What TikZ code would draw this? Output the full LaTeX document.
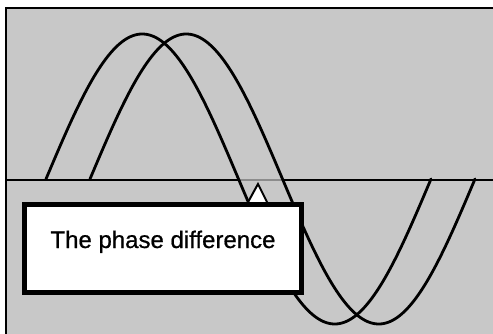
\documentclass[tikz,border=0pt]{standalone}
\usepackage{fontspec}
\newfontfamily\gothic[FakeBold=0.7]{Liberation Sans}
\definecolor{panel}{RGB}{200,200,200}
\definecolor{gapgray}{RGB}{140,140,140}
\begin{document}
\begin{tikzpicture}[x=1pt,y=-1pt,
  wave/.style={line width=2.8pt, line cap=round},
  axisline/.style={line width=2.2pt},
  callout/.style={draw=black, fill=white, line width=5.5pt, minimum width=277pt, minimum height=88pt,
    inner sep=0pt, text height=17pt, text depth=18pt, font=\gothic\fontsize{24}{24}\selectfont}]
\useasboundingbox (0,0) rectangle (493,334);
% panel
\fill[panel] (6,8) rectangle (493,334);
\draw[line width=2.2pt] (6,334) -- (6,8) -- (493,8);
% axis
\coordinate (axL) at (6,180);
\coordinate (axR) at (493,180);
\draw[axisline] (axL) -- (axR);
\coordinate (z1) at (238.5,180);
\coordinate (z2) at (282.5,180);
\draw[axisline, gapgray] (z1) -- (z2);
% waves
\draw[wave] plot[domain=46:431, samples=240, smooth] (\x, {179 - 145*sin((\x-46)/385*360)});
\draw[wave] plot[domain=90:475, samples=240, smooth] (\x, {179 - 145*sin((\x-90)/385*360)});
% pointer
\coordinate (tip) at (258,184);
\coordinate (bl) at (247,204);
\coordinate (br) at (268,204);
\draw[fill=white, line width=2pt, line join=miter] (bl) -- (tip) -- (br);
% callout box
\node[callout] (box) at (163,248.5) {The phase difference};
\end{tikzpicture}
\end{document}
